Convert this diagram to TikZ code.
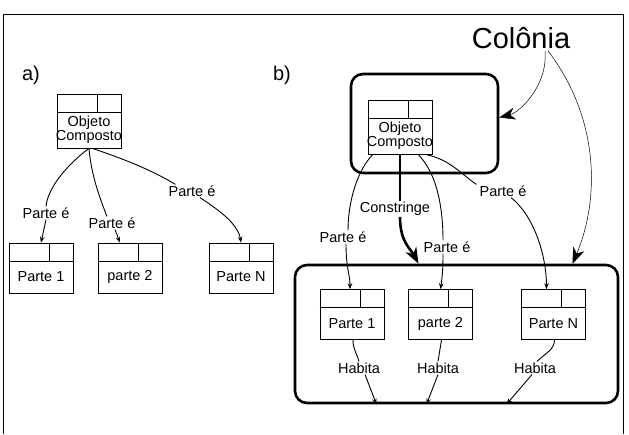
\documentclass[tikz,border=0pt]{standalone}
\usepackage{fontspec}
\setmainfont{Liberation Sans}
\usetikzlibrary{arrows.meta,calc}

\newcommand{\classe}[4][]{%
  \node [classbox,#1] (#2) at (#3) {};
  \draw [black] (#2.north west) ++(0,18) coordinate (#2-h) -- (#2-h -| #2.east);
  \draw [black] ([xshift=40pt]#2.north west) -- ([xshift=40pt]#2-h);
  \node [classtext] (#2-t) at ($(#2-h)!0.5!(#2.south east)$) {#4};
}

\begin{document}
\begin{tikzpicture}[x=1pt,y=-1pt,
    classbox/.style={draw=black, line width=0.6pt, minimum width=64, minimum height=50},
    classtext/.style={font=\fontsize{14.5}{11.5}\selectfont, align=center},
    lbl/.style={font=\fontsize{14.5}{15}\selectfont, inner sep=1pt},
    colonia/.style={draw=black, line width=2.6pt, rounded corners=12pt},
    rel/.style={black, line width=0.9pt},
    relarrow/.style={rel, -{Stealth[length=6pt,width=4.5pt]}},
    bigarrow/.style={-{Stealth[length=16pt,width=12pt,inset=5pt]}}]
    \tikzstyle{every node}+=[inner sep=0pt]
    \useasboundingbox (0,0) rectangle (629,434);
    \draw [black, line width=1pt] (3,434) -- (3,14) -- (623,14) -- (623,434);
    % a)
    \node [font=\fontsize{20}{20}\selectfont] (tita) at (31,75) {a)};
    \classe[minimum height=54]{oa}{89,121}{Objeto\\Composto}
    \classe{pa1}{41,268}{Parte 1}
    \classe{pa2}{130,268}{parte 2}
    \classe{paN}{241,268}{Parte N}
    \node [lbl] (la1) at (46,213) {Parte é};
    \node [lbl] (la2) at (112,223) {Parte é};
    \node [lbl] (la3) at (192,191) {Parte é};
    \draw [rel] (oa.south) .. controls +(-20,15) and +(2,-20) .. (la1.north);
    \draw [relarrow] (la1.south) -- (pa1.north);
    \draw [rel] (oa.south) .. controls +(2,25) and +(-8,-20) .. ([xshift=-5pt]la2.north);
    \draw [relarrow] ([xshift=3pt]la2.south) -- ([xshift=-10pt]pa2.north);
    \draw [rel] ([xshift=3pt]oa.south) .. controls +(30,10) and +(-25,-15) .. ([xshift=8pt]la3.north west);
    \draw [relarrow] ([xshift=8pt]la3.south) .. controls +(15,10) and +(-3,-20) .. (paN.north);
    % b)
    \node [font=\fontsize{20}{20}\selectfont] (titb) at (282,75) {b)};
    \node [font=\fontsize{29}{29}\selectfont, inner sep=2pt] (colo) at (521,38) {Colônia};
    \node [colonia, minimum width=147, minimum height=99] (col1) at (424.5,123.5) {};
    \node [colonia, minimum width=323, minimum height=138] (col2) at (456.5,334) {};
    \classe[minimum height=54]{ob}{400,127}{Objeto\\Composto}
    \classe{pb1}{352,314.5}{Parte 1}
    \classe{pb2}{440.5,314.5}{parte 2}
    \classe{pbN}{553.5,314.5}{Parte N}
    \node [lbl] (lb1) at (343,237) {Parte é};
    \node [lbl] (lc) at (395,209) {Constringe};
    \node [lbl] (lb2) at (447,247) {Parte é};
    \node [lbl] (lbN) at (503,191) {Parte é};
    \node [lbl] (hb1) at (359,368) {Habita};
    \node [lbl] (hb2) at (438,368) {Habita};
    \node [lbl] (hbN) at (535,368) {Habita};
    \draw [rel] ([xshift=-27pt]ob.south) .. controls +(-15,15) and +(0,-30) .. ([xshift=5pt]lb1.north);
    \draw [relarrow] ([xshift=3pt]lb1.south) .. controls +(0,25) and +(0,-15) .. ([xshift=-2pt]pb1.north);
    \draw [black, line width=2.6pt] (ob.south) -- ([xshift=5pt]lc.north);
    \draw [black, line width=2.6pt, bigarrow] ([xshift=5pt]lc.south) .. controls +(0,25) and +(-8,-15) .. ([xshift=-38pt]col2.north);
    \draw [rel] ([xshift=18pt]ob.south) .. controls +(20,20) and +(0,-30) .. ([xshift=-4pt]lb2.north);
    \draw [relarrow] ([xshift=-4pt]lb2.south) .. controls +(0,15) and +(2,-15) .. (pb2.north);
    \draw [rel] ([xshift=25pt]ob.south) .. controls +(25,5) and +(-15,-10) .. ([xshift=-2pt]lbN.north west);
    \draw [relarrow] ([xshift=8pt]lbN.south) .. controls +(25,20) and +(0,-30) .. ([xshift=-7pt]pbN.north);
    \draw [rel] ([xshift=1pt]pb1.south) .. controls +(0,10) and +(-2,-8) .. (hb1.north);
    \draw [relarrow] ([xshift=6pt]hb1.south) -- ([xshift=-80pt]col2.south);
    \draw [rel] ([xshift=1pt]pb2.south) -- (hb2.north);
    \draw [relarrow] (hb2.south) -- ([xshift=-30pt]col2.south);
    \draw [rel] ([xshift=1pt]pbN.south) .. controls +(0,10) and +(8,-8) .. ([xshift=2pt]hbN.north);
    \draw [relarrow] ([xshift=-3pt]hbN.south) -- ([xshift=50pt]col2.south);
    \draw [black, line width=0.5pt, bigarrow] ([xshift=24pt]colo.south) .. controls +(3,35) and +(20,-5) .. ([yshift=6pt]col1.east);
    \draw [black, line width=0.5pt, bigarrow] ([xshift=27pt]colo.south) .. controls +(52,68) and +(27,-64) .. ([xshift=116pt]col2.north);
\end{tikzpicture}
\end{document}
